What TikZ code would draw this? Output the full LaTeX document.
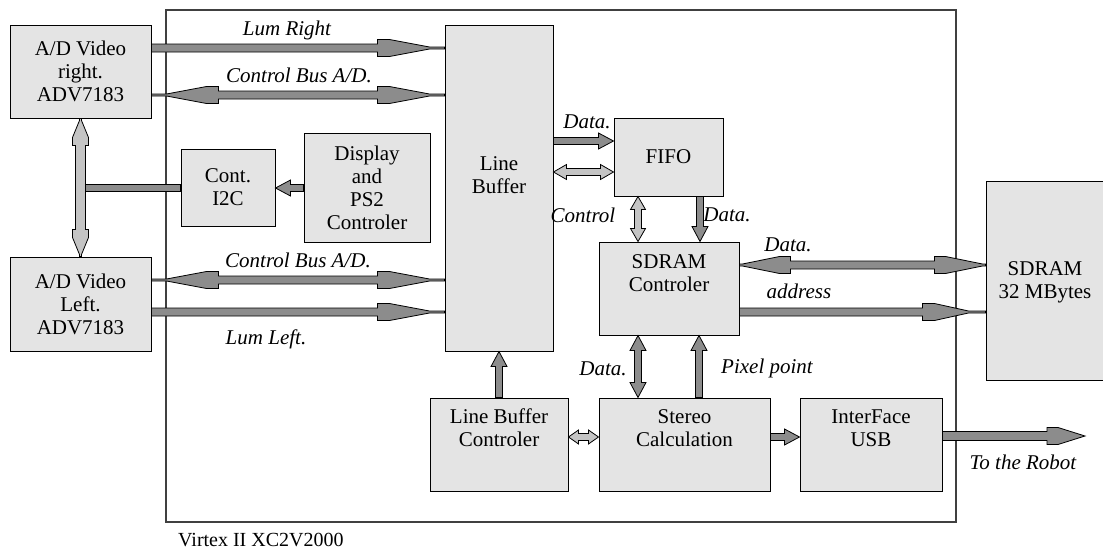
\documentclass[tikz,border=0pt]{standalone}
\usepackage{fontspec}
\setmainfont{Liberation Serif}
\usetikzlibrary{calc}
\definecolor{dgray}{RGB}{140,140,140}
\definecolor{lgray}{RGB}{196,196,196}
\definecolor{boxfill}{RGB}{228,228,228}
\definecolor{framecol}{RGB}{64,64,64}
\pgfkeys{/fa/.is family,/fa,
  w/.store in=\fArW, h/.store in=\fArH, f/.store in=\fArF, t/.store in=\fArT,
  s/.store in=\fArS, e/.store in=\fArE, col/.store in=\fArC, mode/.store in=\fArM,
  fat/.style={w=4,h=8.5,f=12,t=40,s=15,e=1},
  block/.style={w=3.5,h=8,f=0,t=15,s=0,e=0}}
% mode: 0 = no head, 1 = head at end, 2 = heads at both ends
\newcommand\farrow[3][]{%
\begin{scope}
\pgfkeys{/fa,block,col=dgray,mode=1,#1}%
\path #2 coordinate (fArA) #3 coordinate (fArB);
\pgfpointdiff{\pgfpointanchor{fArA}{center}}{\pgfpointanchor{fArB}{center}}%
\pgfgetlastxy{\fArDX}{\fArDY}%
\pgfmathsetmacro\fArL{veclen(\fArDX,\fArDY)}%
\pgfmathsetmacro\fArAng{atan2(\fArDY,\fArDX)}%
\ifnum\fArM=0
  \edef\eH{\fArW}\def\eF{0}\def\eT{0}\def\eS{0}\edef\eE{\fArW}%
\else
  \edef\eH{\fArH}\edef\eF{\fArF}\edef\eT{\fArT}\edef\eS{\fArS}\edef\eE{\fArE}%
\fi
\ifnum\fArM=2
  \edef\sH{\eH}\edef\sF{\eF}\edef\sT{\eT}\edef\sS{\eS}\edef\sE{\eE}%
\else
  \edef\sH{\fArW}\def\sF{0}\def\sT{0}\def\sS{0}\edef\sE{\fArW}%
\fi
\begin{scope}[shift={(fArA)},rotate=\fArAng,x=1pt,y=1pt]
\filldraw[fill=\fArC,draw=black,line width=0.8pt,line join=miter]
 (0,\sE) -- (\sS,\sE) -- ({\sS+\sT},\sH) -- ({\sS+\sT+\sF},\sH) -- ({\sS+\sT+\sF},\fArW)
 -- ({\fArL-\eS-\eT-\eF},\fArW) -- ({\fArL-\eS-\eT-\eF},\eH) -- ({\fArL-\eS-\eT},\eH)
 -- ({\fArL-\eS},\eE) -- (\fArL,\eE) -- (\fArL,-\eE) -- ({\fArL-\eS},-\eE)
 -- ({\fArL-\eS-\eT},-\eH) -- ({\fArL-\eS-\eT-\eF},-\eH) -- ({\fArL-\eS-\eT-\eF},-\fArW)
 -- ({\sS+\sT+\sF},-\fArW) -- ({\sS+\sT+\sF},-\sH) -- ({\sS+\sT},-\sH) -- (\sS,-\sE) -- (0,-\sE) -- cycle;
\end{scope}
\end{scope}}
\tikzset{
  box/.style={draw=black,line width=1pt,fill=boxfill,inner sep=0pt,align=center,
    font=\fontsize{21}{23}\selectfont},
  boxtext/.style={inner sep=0pt,align=center,font=\fontsize{21}{23}\selectfont},
  lbl/.style={inner sep=0pt,font=\fontsize{21}{23}\selectfont\itshape},
  frame/.style={draw=framecol,line width=1.5pt,inner sep=0pt}
}
\begin{document}
\begin{tikzpicture}[x=1pt,y=-1pt]
\useasboundingbox (0,0) rectangle (1103,549);
% FPGA frame
\node[frame,minimum width=790pt,minimum height=512pt] (fpga) at (561,266) {};
\node[inner sep=0pt,anchor=west,font=\fontsize{20}{22}\selectfont] (vlabel) at (178,540) {Virtex II XC2V2000};
% boxes
\node[box,minimum width=141pt,minimum height=93pt] (adr) at (80.5,71.5) {A/D Video\\right.\\ADV7183};
\node[box,minimum width=141pt,minimum height=94pt] (adl) at (80.5,304) {A/D Video\\Left.\\ADV7183};
\node[box,minimum width=94pt,minimum height=77pt] (i2c) at (228,187.5) {Cont.\\I2C};
\node[box,minimum width=126pt,minimum height=109pt] (disp) at (367,187.5) {Display\\and\\PS2\\Controler};
\node[box,minimum width=108pt,minimum height=326pt] (lb) at (499,188) {};
\node[boxtext] (lbt) at (499,175) {Line\\Buffer};
\node[box,minimum width=109pt,minimum height=78pt] (fifo) at (668.5,157) {FIFO};
\node[box,minimum width=140pt,minimum height=93pt] (sdc) at (669,288.5) {};
\node[boxtext] (sdct) at (669,273) {SDRAM\\Controler};
\node[box,minimum width=138pt,minimum height=93pt] (lbc) at (499,444.5) {};
\node[boxtext] (lbct) at (499,428) {Line Buffer\\Controler};
\node[box,minimum width=171pt,minimum height=93pt] (st) at (684.5,444.5) {};
\node[boxtext] (stt) at (684.5,428) {Stereo\\Calculation};
\node[box,minimum width=142pt,minimum height=93pt] (usb) at (871,444.5) {};
\node[boxtext] (usbt) at (871,428) {InterFace\\USB};
\node[box,minimum width=130pt,minimum height=199pt] (sdram) at (1051,280.5) {};
\node[boxtext] (sdramt) at (1045,282) {SDRAM\\32 MBytes};
% connectors
\coordinate (i2cj) at (85.5,188);
\coordinate (robot) at (1085,436);
\farrow[w=5,h=8,f=8,t=17,s=2,e=1,col=lgray,mode=2]{(adr.south)}{(adl.north)}
\farrow[w=3.8,mode=0]{(i2cj)}{(i2c.west |- i2cj)}
\farrow{(disp.west |- i2cj)}{(i2c.east |- i2cj)}
\farrow[fat]{(adr.east |- 0,48)}{(lb.west |- 0,48)}
\farrow[fat,mode=2]{(adr.east |- 0,95)}{(lb.west |- 0,95)}
\farrow[fat,mode=2]{(adl.east |- 0,280)}{(lb.west |- 0,280)}
\farrow[fat]{(adl.east |- 0,312)}{(lb.west |- 0,312)}
\farrow{(lb.east |- 0,141)}{(fifo.west |- 0,141)}
\farrow[col=lgray,mode=2,t=13,h=7.5]{(lb.east |- 0,172)}{(fifo.west |- 0,172)}
\farrow[col=lgray,mode=2,t=13,h=7.5]{(fifo.south -| 638,0)}{(sdc.north -| 638,0)}
\farrow{(fifo.south -| 700,0)}{(sdc.north -| 700,0)}
\farrow[mode=2]{(sdc.south -| 638,0)}{(st.north -| 638,0)}
\farrow{(st.north -| 699,0)}{(sdc.south -| 699,0)}
\farrow{(lbc.north)}{(lb.south)}
\farrow[col=lgray,mode=2,t=10,h=7]{(lbc.east |- 0,437)}{(st.west |- 0,437)}
\farrow{(st.east |- 0,437)}{(usb.west |- 0,437)}
\farrow[fat,mode=2,f=11,t=37,s=3]{(sdc.east |- 0,265)}{(sdram.west |- 0,265)}
\farrow[fat,f=12,t=34,s=17]{(sdc.east |- 0,312)}{(sdram.west |- 0,312)}
\farrow[w=4.5,h=8.5,f=11,t=27,s=0,e=0]{(usb.east |- robot)}{(robot)}
% labels
\node[lbl] (lumr) at (287,30) {Lum Right};
\node[lbl] (cbt) at (299,75) {Control Bus A/D.};
\node[lbl] (cbb) at (298,260) {Control Bus A/D.};
\node[lbl] (luml) at (266,339) {Lum Left.};
\node[lbl] (d1) at (587,122) {Data.};
\node[lbl] (ctl) at (583,215) {Control};
\node[lbl] (d2) at (727,215) {Data.};
\node[lbl] (d3) at (788,245) {Data.};
\node[lbl] (addr) at (799,291) {address};
\node[lbl] (d4) at (603,369) {Data.};
\node[lbl] (pix) at (767,368) {Pixel point};
\node[lbl] (robotl) at (1023,462) {To the Robot};
\end{tikzpicture}
\end{document}
